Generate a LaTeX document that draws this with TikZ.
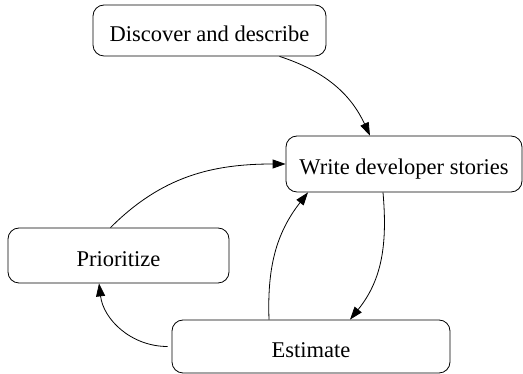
\documentclass[tikz,border=0pt]{standalone}
\usepackage{fontspec}
\setmainfont{Liberation Serif}
\usepackage{tikz}
\usetikzlibrary{arrows.meta}

\tikzset{
  task/.style = {draw, rounded corners = 11pt, line width = .8pt,
    text height = 22pt, text depth = 0pt,
    font = \fontsize{22.5}{27}\selectfont},
  flow/.style = {-{Triangle[length=13pt, width=9pt]}, line width = .8pt}
}

\begin{document}
\begin{tikzpicture}[x = 1pt, y = 1pt]
  \useasboundingbox (0,0) rectangle (523,374);

  % the four tasks
  \node[task, minimum width = 233pt, minimum height = 51pt] (discover) at (209.5,343.5) {Discover and describe};
  \node[task, minimum width = 236pt, minimum height = 56pt] (write) at (404,210) {Write developer stories};
  \node[task, minimum width = 221pt, minimum height = 55pt] (prio) at (118.5,118.5) {Prioritize};
  \node[task, minimum width = 278pt, minimum height = 53pt] (estimate) at (311,27.5) {Estimate};

  % the loop
  \draw[flow] ([xshift = 70pt]discover.south) to[out = -18, in = 115] ([xshift = -34pt]write.north);
  \draw[flow] ([xshift = -8pt]prio.north) to[out = 45, in = 180] (write.west);
  \draw[flow] ([xshift = -42pt]estimate.north) to[out = 92, in = 232] ([xshift = -96pt]write.south);
  \draw[flow] ([xshift = -21pt]write.south) to[out = -85, in = 51] ([xshift = 39pt]estimate.north);
  \draw[flow] ([xshift = -4pt]estimate.west) to[out = 180, in = -83] ([xshift = -19.5pt]prio.south);

\end{tikzpicture}
\end{document}
